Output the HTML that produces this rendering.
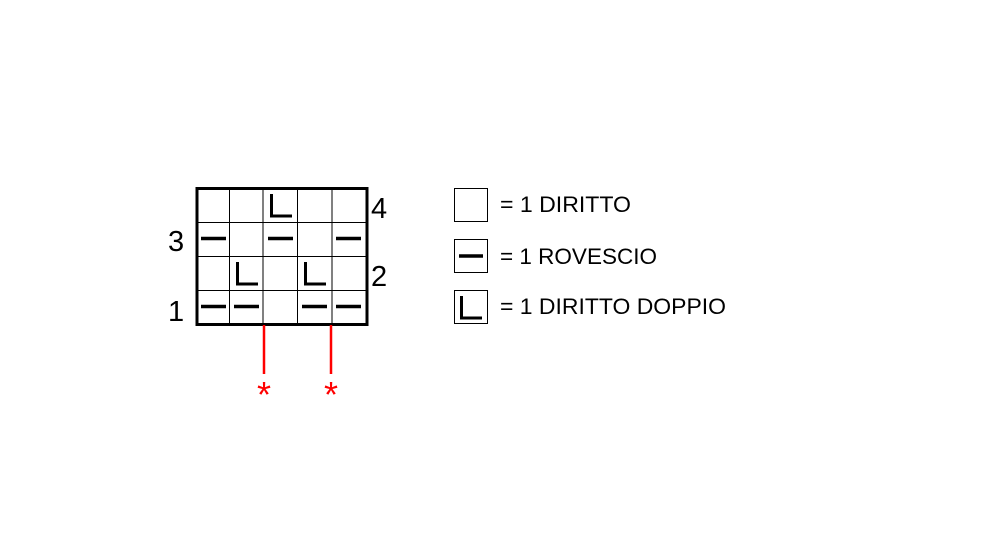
<!DOCTYPE html>
<html><head><meta charset="utf-8"><style>
html,body{margin:0;padding:0;background:#fff;}
svg{display:block;}
text{font-family:"Liberation Sans",sans-serif;}
</style></head><body>
<svg width="1000" height="560" viewBox="0 0 1000 560" xmlns="http://www.w3.org/2000/svg">
<rect width="1000" height="560" fill="#fff"/>
<g stroke="#000" stroke-width="1">
<line x1="229.5" y1="188" x2="229.5" y2="325"/>
<line x1="263" y1="188" x2="263" y2="325"/>
<line x1="297.5" y1="188" x2="297.5" y2="325"/>
<line x1="332" y1="188" x2="332" y2="325"/>
<line x1="196" y1="222.5" x2="367" y2="222.5"/>
<line x1="196" y1="256.5" x2="367" y2="256.5"/>
<line x1="196" y1="290.5" x2="367" y2="290.5"/>
</g>
<rect x="197" y="188.5" width="170" height="136" fill="none" stroke="#000" stroke-width="3"/>
<g stroke="#000" stroke-width="3.5" fill="none">
<line x1="201" y1="238.5" x2="226" y2="238.5"/>
<line x1="268" y1="238.5" x2="293" y2="238.5"/>
<line x1="336" y1="238.5" x2="361" y2="238.5"/>
<line x1="201" y1="306.5" x2="226" y2="306.5"/>
<line x1="234" y1="306.5" x2="259" y2="306.5"/>
<line x1="302" y1="306.5" x2="327" y2="306.5"/>
<line x1="336" y1="306.5" x2="361" y2="306.5"/>
</g>
<g stroke="#000" stroke-width="3" fill="none">
<polyline points="271.5,194 271.5,216 292,216"/>
<polyline points="237.5,262 237.5,284 258,284"/>
<polyline points="305.5,262 305.5,284 326,284"/>
</g>
<g stroke="#f00" stroke-width="2.5">
<line x1="264" y1="325" x2="264" y2="374"/>
<line x1="331" y1="325" x2="331" y2="374"/>
</g>
<text x="264" y="407" fill="#f00" font-size="36" text-anchor="middle">*</text>
<text x="331" y="407" fill="#f00" font-size="36" text-anchor="middle">*</text>
<g font-size="29" fill="#000">
<text x="371" y="218">4</text>
<text x="168" y="251">3</text>
<text x="371" y="286">2</text>
<text x="168" y="321">1</text>
</g>
<g fill="none" stroke="#000" stroke-width="1">
<rect x="454.5" y="188.5" width="33" height="33"/>
<rect x="454.5" y="239.5" width="33" height="33"/>
<rect x="454.5" y="290.5" width="33" height="33"/>
</g>
<line x1="459" y1="256" x2="483" y2="256" stroke="#000" stroke-width="3.5"/>
<polyline points="461.5,296 461.5,318 482,318" stroke="#000" stroke-width="3" fill="none"/>
<g font-size="22" fill="#000">
<text x="500" y="212" textLength="131" lengthAdjust="spacingAndGlyphs">= 1 DIRITTO</text>
<text x="500" y="264" textLength="157" lengthAdjust="spacingAndGlyphs">= 1 ROVESCIO</text>
<text x="500" y="314" textLength="226" lengthAdjust="spacingAndGlyphs">= 1 DIRITTO DOPPIO</text>
</g>
</svg>
</body></html>
